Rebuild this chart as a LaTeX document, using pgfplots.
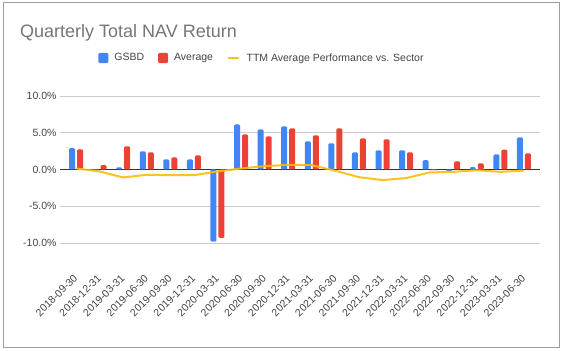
\documentclass[border=0pt]{standalone}
\usepackage{pgfplots}
\pgfplotsset{compat=1.18}
\usepackage{fontspec}
\setmainfont{Liberation Sans}
\definecolor{gsbdblue}{HTML}{4285F4}
\definecolor{avgred}{HTML}{EA4335}
\definecolor{ttmyel}{HTML}{FBBC04}
\definecolor{titlegray}{HTML}{757575}
\definecolor{tickgray}{HTML}{444444}
\definecolor{gridgray}{HTML}{CCCCCC}
\definecolor{bordergray}{HTML}{9E9E9E}
\begin{document}
\begin{tikzpicture}
\useasboundingbox (0,0) rectangle (562bp,351bp);
\draw[bordergray, line width=1bp] (3bp,3bp) rectangle (559bp,348bp);
\node[anchor=base west, font=\fontsize{18bp}{20bp}\selectfont, text=titlegray, inner sep=0pt] at (20bp,313bp) {Quarterly Total NAV Return};
\begin{axis}[
  at={(60bp,108bp)}, anchor=south west,
  width=480bp, height=147bp, scale only axis,
  xmin=-0.68, xmax=19.68,
  ymin=-10, ymax=10,
  ytick={-10,-5,0,5,10},
  yticklabel={\pgfmathprintnumber[fixed,fixed zerofill,precision=1]{\tick}\%},
  /pgf/number format/assume math mode=true,
  xtick={0,...,19},
  xticklabels={2018-09-30,2018-12-31,2019-03-31,2019-06-30,2019-09-30,2019-12-31,2020-03-31,2020-06-30,2020-09-30,2020-12-31,2021-03-31,2021-06-30,2021-09-30,2021-12-31,2022-03-31,2022-06-30,2022-09-30,2022-12-31,2023-03-31,2023-06-30},
  xticklabel style={rotate=45, anchor=east, font=\fontsize{10.5bp}{12bp}\selectfont, text=tickgray, inner sep=0.5bp},
  xticklabel shift=33bp,
  yticklabel style={font=\fontsize{10.5bp}{12bp}\selectfont, text=tickgray},
  major tick length=0pt,
  axis line style={draw=none},
  ymajorgrids, grid style={gridgray, line width=0.8bp},
  extra y ticks={0}, extra y tick labels={},
  extra y tick style={grid style={black!80, line width=1bp}},
  clip=false,
  legend columns=3,
  legend style={at={(0.4198,1.2585)}, anchor=center, draw=none, fill=none,
    font=\fontsize{10.5bp}{12bp}\selectfont, text=tickgray,
    /tikz/every odd column/.append style={column sep=5bp},
    /tikz/every even column/.append style={column sep=13bp},
    nodes={inner sep=1bp}},
]
\addplot[ybar, bar width=6bp, bar shift=-4bp, fill=gsbdblue, draw=none, rounded corners=1.2bp,
  legend image code/.code={\fill[gsbdblue] (0bp,-5bp) rectangle (10bp,5bp);}]
  table[x=i, y=v] {
i v
0 2.9
1 -0.1
2 0.3
3 2.45
4 1.37
5 1.37
6 -9.8
7 6.13
8 5.45
9 5.86
10 3.83
11 3.56
12 2.32
13 2.6
14 2.6
15 1.26
16 -0.2
17 0.31
18 2.05
19 4.37
};
\addlegendentry{GSBD}
\addplot[ybar, bar width=6bp, bar shift=4bp, fill=avgred, draw=none, rounded corners=1.2bp,
  legend image code/.code={\fill[avgred] (0bp,-5bp) rectangle (10bp,5bp);}]
  table[x=i, y=v] {
i v
0 2.75
1 0.59
2 3.15
3 2.32
4 1.64
5 1.91
6 -9.3
7 4.77
8 4.5
9 5.59
10 4.64
11 5.59
12 4.23
13 4.1
14 2.32
15 -0.1
16 1.1
17 0.83
18 2.7
19 2.18
};
\addlegendentry{Average}
\addplot[sharp plot, ttmyel, line width=2bp, no marks, opacity=0.9,
  legend image code/.code={\draw[ttmyel, line width=2.5bp] (0bp,0bp) -- (11bp,0bp);}]
  table[x=i, y=v] {
i v
0 0.15
1 -0.27
2 -1.08
3 -0.72
4 -0.77
5 -0.77
6 -0.27
7 0.14
8 0.45
9 0.63
10 0.59
11 -0.18
12 -1.04
13 -1.44
14 -1.17
15 -0.4
16 -0.32
17 -0.1
18 -0.32
19 -0.14
};
\addlegendentry{TTM Average Performance vs. Sector}
\end{axis}
\end{tikzpicture}
\end{document}
